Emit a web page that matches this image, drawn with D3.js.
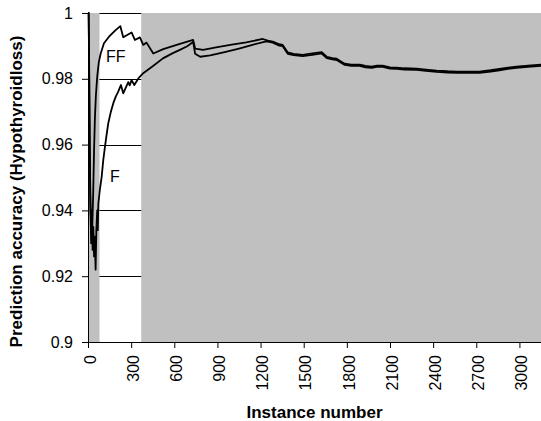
<!DOCTYPE html>
<html>
<head>
<meta charset="utf-8">
<script src="https://cdn.jsdelivr.net/npm/d3@7"></script>
<style>
body { margin: 0; background: #fff; }
text { font-family: "Liberation Sans", Arial, sans-serif; }
</style>
</head>
<body>
<svg id="chart"></svg>
<script>
// FF series
const ffInst = [0, 4, 8, 12, 16, 21, 26, 30, 36, 42, 48, 55, 64, 75, 88, 111, 146, 192, 225, 245, 303, 326, 361, 384, 407, 454, 523, 639, 731, 745, 800, 900, 1000, 1100, 1215, 1250, 1285, 1330, 1354, 1389, 1430, 1493, 1560, 1625, 1660, 1700, 1729, 1785, 1830, 1889, 1930, 1972, 2010, 2049, 2100, 2146, 2200, 2285, 2350, 2424, 2500, 2563, 2640, 2722, 2800, 2861, 2920, 2979, 3060, 3150];
const ffAcc = [1.0, 1.0, 0.985, 0.96, 0.945, 0.935, 0.94, 0.935, 0.945, 0.958, 0.968, 0.975, 0.9806, 0.985, 0.9877, 0.9908, 0.9928, 0.9948, 0.996, 0.9926, 0.9941, 0.9918, 0.9926, 0.9903, 0.991, 0.9877, 0.989, 0.9906, 0.9918, 0.9892, 0.9888, 0.9896, 0.9904, 0.9911, 0.9921, 0.9916, 0.9913, 0.9905, 0.9903, 0.988, 0.9876, 0.9873, 0.9877, 0.9881, 0.9867, 0.9863, 0.9861, 0.9846, 0.9843, 0.9843, 0.9839, 0.9837, 0.984, 0.984, 0.9835, 0.9834, 0.9832, 0.9831, 0.9828, 0.9825, 0.9823, 0.9822, 0.9822, 0.9822, 0.9826, 0.983, 0.9834, 0.9837, 0.984, 0.9843];

// F series
const fInst = [0, 5, 9, 13, 17, 22, 27, 32, 37, 42, 47, 53, 58, 64, 68, 72, 83, 95, 106, 118, 130, 141, 158, 176, 193, 210, 229, 245, 280, 290, 303, 322, 350, 384, 450, 521, 590, 639, 690, 731, 745, 780, 850, 950, 1050, 1150, 1240, 1285, 1330, 1354, 1389, 1430, 1493, 1560, 1625, 1660, 1700, 1729, 1785, 1830, 1889, 1930, 1972, 2010, 2049, 2100, 2146, 2200, 2285, 2350, 2424, 2500, 2563, 2640, 2722, 2800, 2861, 2920, 2979, 3060, 3150];
const fAcc = [1.0, 1.0, 0.975, 0.955, 0.94, 0.93, 0.938, 0.928, 0.935, 0.926, 0.932, 0.922, 0.934, 0.94, 0.934, 0.9421, 0.9465, 0.9502, 0.9552, 0.9594, 0.9632, 0.9665, 0.9698, 0.9726, 0.9746, 0.9761, 0.9781, 0.9756, 0.979, 0.978, 0.9796, 0.9781, 0.9801, 0.9817, 0.9838, 0.9862, 0.9878, 0.9888, 0.9899, 0.9912, 0.9876, 0.9867, 0.9871, 0.9881, 0.9892, 0.9904, 0.9914, 0.991, 0.9901, 0.9899, 0.9876, 0.9872, 0.9869, 0.9873, 0.9877, 0.9863, 0.9859, 0.9857, 0.9842, 0.9839, 0.9839, 0.9835, 0.9833, 0.9836, 0.9836, 0.9831, 0.983, 0.9828, 0.9827, 0.9824, 0.9821, 0.9819, 0.9818, 0.9818, 0.9818, 0.9822, 0.9826, 0.983, 0.9833, 0.9836, 0.9839];

// shaded instance ranges
const shadeStart = [0, 370];
const shadeEnd = [80, 3150];

const xTicks = [0, 300, 600, 900, 1200, 1500, 1800, 2100, 2400, 2700, 3000];
const yTicks = [0.9, 0.92, 0.94, 0.96, 0.98, 1];

const labelText = ["FF", "F"];
const labelInst = [125, 153];
const labelAcc = [0.9851, 0.9486];

const width = 541, height = 421;
const margin = { top: 13, right: 0, bottom: 79, left: 88 };

const svg = d3.select('#chart')
              .attr('width', width)
              .attr('height', height);

const x = d3.scaleLinear()
            .domain([0, 3150])
            .range([margin.left, width - margin.right]);

const y = d3.scaleLinear()
            .domain([0.9, 1])
            .range([height - margin.bottom, margin.top]);

// grid lines (sit under the shading)
svg.append('g')
   .selectAll('line')
   .data(yTicks.slice(1))
   .enter()
   .append('line')
   .attr('x1', margin.left)
   .attr('x2', width)
   .attr('y1', d => Math.round(y(d)) + 0.5)
   .attr('y2', d => Math.round(y(d)) + 0.5)
   .attr('stroke', '#000')
   .attr('stroke-width', 1);

svg.append('g')
   .selectAll('rect')
   .data(shadeStart)
   .enter()
   .append('rect')
   .attr('x', (d, i) => x(d))
   .attr('width', (d, i) => x(shadeEnd[i]) - x(d))
   .attr('y', y(1))
   .attr('height', y(0.9) - y(1))
   .attr('fill', '#c0c0c0');

const yAxis = svg.append('g')
   .attr('transform', `translate(${margin.left}, 0)`)
   .call(d3.axisLeft(y).tickValues(yTicks).tickSize(6).tickPadding(9)
           .tickFormat(d => d === 1 ? '1' : d3.format('.2~f')(d)));
yAxis.selectAll('text').style('font-size', '16px').attr('fill', '#000');

const xAxis = svg.append('g')
   .attr('transform', `translate(0, ${height - margin.bottom})`)
   .call(d3.axisBottom(x).tickValues(xTicks).tickSize(6).tickFormat(d3.format('d')));
xAxis.selectAll('text')
     .style('font-size', '16px')
     .attr('fill', '#000')
     .attr('text-anchor', 'end')
     .attr('transform', 'rotate(-90)')
     .attr('x', -13)
     .attr('y', 0)
     .attr('dy', '0.45em');

svg.selectAll('.domain, .tick line').attr('stroke', '#000');

const line = d3.line()
               .x(d => x(d[0]))
               .y(d => y(d[1]));

[[ffInst, ffAcc], [fInst, fAcc]].forEach(([xs, ys]) => {
    svg.append('path')
       .datum(xs.map((v, i) => [v, ys[i]]))
       .attr('fill', 'none')
       .attr('stroke', '#000')
       .attr('stroke-width', 1.8)
       .attr('stroke-linejoin', 'round')
       .attr('d', line);
});

labelText.forEach((t, i) => {
    svg.append('text')
       .attr('x', x(labelInst[i]))
       .attr('y', y(labelAcc[i]))
       .style('font-size', '16px')
       .text(t);
});

svg.append('text')
   .attr('transform', `translate(22, ${(y(0.9) + y(1)) / 2 + 14}) rotate(-90)`)
   .attr('text-anchor', 'middle')
   .style('font-size', '17px')
   .style('font-weight', 'bold')
   .text('Prediction accuracy (Hypothyroidloss)');

svg.append('text')
   .attr('x', (x(0) + width) / 2)
   .attr('y', 418)
   .attr('text-anchor', 'middle')
   .style('font-size', '17px')
   .style('font-weight', 'bold')
   .text('Instance number');
</script>
</body>
</html>
